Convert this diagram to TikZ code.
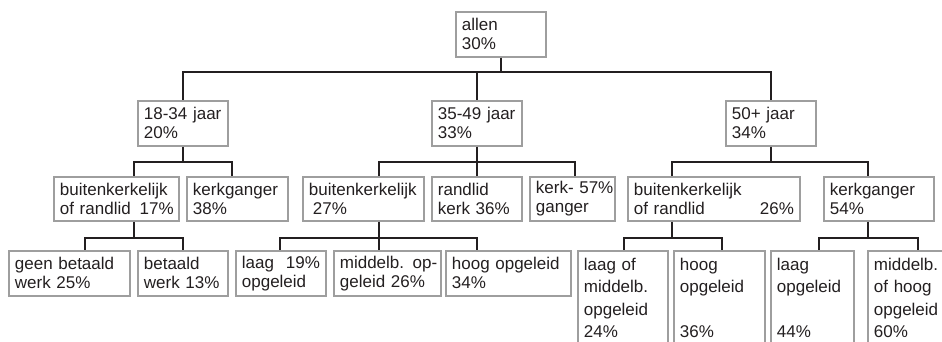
\documentclass[tikz,border=0pt]{standalone}
\usepackage{fontspec}
\setmainfont{Liberation Sans}
\definecolor{inkc}{RGB}{35,31,32}
\definecolor{boxc}{RGB}{158,158,158}
\tikzset{
  box/.style={draw=boxc, line width=1.8pt, inner xsep=6pt, inner ysep=0pt, align=left,
    text=inkc, font=\fontsize{17}{19}\selectfont},
  openbox/.style={box, font=\fontsize{17}{22.5}\selectfont},
  conn/.style={draw=inkc, line width=1.9pt}
}
\newcommand\mybox[7]{%
  \pgfmathsetmacro\bxw{#4-#2}\pgfmathsetmacro\bxh{#5-#3}\pgfmathsetmacro\bxt{#4-#2-12}%
  \node[#6, minimum width=\bxw pt, minimum height=\bxh pt, text width=\bxt pt, anchor=north west] (#1) at (#2,#3) {#7};}
\begin{document}
\begin{tikzpicture}[x=1pt,y=-1pt]
\useasboundingbox (0,0) rectangle (942,341);
\clip (0,0) rectangle (942,341);
% level 0
\mybox{allen}{455}{11}{545}{56}{box}{allen\\30\%}
% level 1
\mybox{a1}{137}{100}{227}{145}{box}{\mbox{18-34 jaar}\\20\%}
\mybox{a2}{431}{100}{521}{145}{box}{\mbox{35-49 jaar}\\33\%}
\mybox{a3}{725}{100}{815}{145}{box}{50+ jaar\\34\%}
% level 2
\mybox{b1}{53}{176}{178}{220}{box}{buitenkerkelijk\\\mbox{of randlid\hspace{9pt}17\%}}
\mybox{b2}{186}{176}{287}{220}{box}{kerkganger\\38\%}
\mybox{b3}{302}{176}{423}{220}{box}{buitenkerkelijk\\\hspace*{4pt}27\%}
\mybox{b4}{431}{176}{521}{220}{box}{randlid\\kerk 36\%}
\mybox{b5}{529}{176}{614}{220}{box}{\mbox{kerk-~57\%}\\ganger}
\mybox{b6}{627}{176}{799}{220}{box}{buitenkerkelijk\\of randlid\hfill 26\%}
\mybox{b7}{823}{176}{933}{220}{box}{kerkganger\\54\%}
% level 3
\mybox{c1}{8}{250}{129}{295}{box}{geen betaald\\werk 25\%}
\mybox{c2}{137}{250}{227}{295}{box}{betaald\\werk 13\%}
\mybox{c3}{235}{250}{325}{295}{box}{laag\hfill 19\%\\opgeleid}
\mybox{c4}{333}{250}{440}{295}{box}{\mbox{middelb. op-}\\geleid 26\%}
\mybox{c5}{445}{250}{570}{295}{box}{hoog opgeleid\\34\%}
\mybox{d1}{577}{250}{667}{344}{openbox}{laag of\\middelb.\\opgeleid\\24\%}
\mybox{d2}{673}{250}{764}{344}{openbox}{hoog\\opgeleid\\~\\36\%}
\mybox{d3}{770}{250}{853}{344}{openbox}{laag\\opgeleid\\~\\44\%}
\mybox{d4}{867}{250}{957}{344}{openbox}{middelb.\\of hoog\\opgeleid\\60\%}
% connectors
\draw[conn] (allen.south) -- ++(0,14) -| (a1.north);
\draw[conn] (allen.south) -- ++(0,14) -| (a2.north);
\draw[conn] (allen.south) -- ++(0,14) -| (a3.north);
\draw[conn] (a1.south) -- ++(0,15) -| ([xshift=17.5pt]b1.north);
\draw[conn] (a1.south) -- ++(0,15) -| ([xshift=-5.5pt]b2.north);
\draw[conn] (a2.south) -- ++(0,15) -| ([xshift=15.5pt]b3.north);
\draw[conn] (a2.south) -- ++(0,15) -| (b4.north);
\draw[conn] (a2.south) -- ++(0,15) -| ([xshift=2.5pt]b5.north);
\draw[conn] (a3.south) -- ++(0,15) -| ([xshift=-42pt]b6.north);
\draw[conn] (a3.south) -- ++(0,15) -| ([xshift=-11pt]b7.north);
\draw[conn] ([xshift=17.5pt]b1.south) -- ++(0,16) -| ([xshift=15.5pt]c1.north);
\draw[conn] ([xshift=17.5pt]b1.south) -- ++(0,16) -| (c2.north);
\draw[conn] ([xshift=15.5pt]b3.south) -- ++(0,16) -| ([xshift=-1pt]c3.north);
\draw[conn] ([xshift=15.5pt]b3.south) -- ++(0,16) -| ([xshift=-8.5pt]c4.north);
\draw[conn] ([xshift=15.5pt]b3.south) -- ++(0,16) -| ([xshift=-31.5pt]c5.north);
\draw[conn] ([xshift=-42pt]b6.south) -- ++(0,16) -| ([xshift=1pt]d1.north);
\draw[conn] ([xshift=-42pt]b6.south) -- ++(0,16) -| ([xshift=2.5pt]d2.north);
\draw[conn] ([xshift=-11pt]b7.south) -- ++(0,16) -| ([xshift=6.5pt]d3.north);
\draw[conn] ([xshift=-11pt]b7.south) -- ++(0,16) -| ([xshift=5pt]d4.north);
\end{tikzpicture}
\end{document}
